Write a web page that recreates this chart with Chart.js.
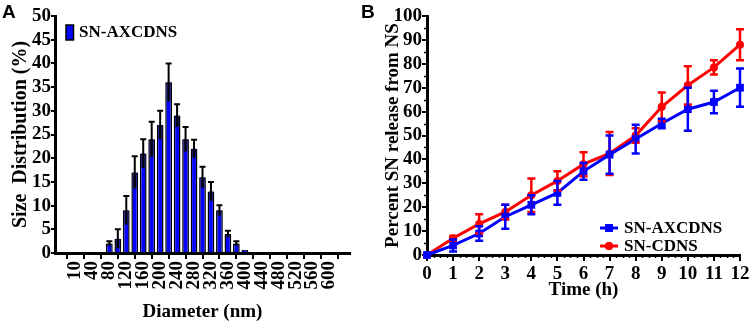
<!DOCTYPE html>
<html>
<head>
<meta charset="utf-8">
<script src="https://cdn.jsdelivr.net/npm/chart.js@4.4.0/dist/chart.umd.min.js"></script>
<style>
  html, body { margin: 0; padding: 0; background: #fff; }
  #wrap { position: relative; width: 754px; height: 323px; overflow: hidden; }
  .panel { position: absolute; top: 0; width: 377px; height: 323px; }
  #panelA { left: 0; }
  #panelB { left: 377px; }
  .tag { position: absolute; top: 2px; font: bold 19px "Liberation Sans", Arial, sans-serif; line-height: 19px; color: #000; }
</style>
</head>
<body>
<div id="wrap">
  <div class="panel" id="panelA"><canvas id="chartA" width="377" height="323"></canvas></div>
  <div class="panel" id="panelB"><canvas id="chartB" width="377" height="323"></canvas></div>
  <div class="tag" style="left:2px">A</div>
  <div class="tag" style="left:361px">B</div>
</div>
<script>
// Panel A data: size distribution (%) per diameter bin
const diameters = [10, 20, 40, 60, 80, 100, 120, 140, 160, 180, 200, 220, 240, 260, 280, 300,
                   320, 340, 360, 380, 400, 420, 440, 460, 480, 500, 520, 540, 560, 580, 600];
const sizeDist = [0, 0, 0, 0, 2, 3, 9, 17, 21, 24, 27, 36, 29, 24, 22, 16,
                  13, 9, 4, 2, 0.7, 0, 0, 0, 0, 0, 0, 0, 0, 0, 0];
const sizeErr = [0, 0, 0, 0, 0.5, 2, 3, 3.4, 3, 3.7, 3, 4, 2.4, 2.6, 1.9, 2.2,
                 2, 1.1, 0.7, 0.5, 0, 0, 0, 0, 0, 0, 0, 0, 0, 0, 0];

// Panel B data: release over time
const times = [0, 1, 2, 3, 4, 5, 6, 7, 8, 9, 10, 11, 12];
const axcdns = [0, 4, 9, 16, 21, 26, 35, 42, 48.5, 55, 61, 64, 70];
const axcdnsErr = [0, 2.5, 3, 5, 4, 5, 3.5, 8, 6, 2, 9, 4.7, 8];
const cdns = [0, 7, 13, 18, 25, 31, 38, 42.5, 50, 62, 71, 78.5, 88];
const cdnsErr = [0, 1, 4, 3, 7, 4, 5, 9, 3, 6, 8, 3, 6.5];

Chart.defaults.font.family = '"Liberation Serif", "Times New Roman", serif';
Chart.defaults.font.weight = 'bold';
Chart.defaults.font.size = 19;
Chart.defaults.color = '#000';
Chart.defaults.animation = false;

const legendFont = 'bold 17px "Liberation Serif", "Times New Roman", serif';

// error bars: bar charts get a shaded lower part and a top cap, lines get both caps
const errorBars = {
    id: 'errorBars',
    afterDatasetsDraw(chart, args, opts) {
        const ctx = chart.ctx;
        const y = chart.scales.y;
        ctx.save();
        for (let d = chart.data.datasets.length - 1; d >= 0; d--) {
            const ds = chart.data.datasets[d];
            if (!ds.errors) continue;
            const meta = chart.getDatasetMeta(d);
            meta.data.forEach((el, i) => {
                const err = ds.errors[i];
                if (!err) return;
                const v = ds.data[i].y;
                const top = y.getPixelForValue(v + err);
                const low = y.getPixelForValue(Math.max(v - err, 0));
                const mid = y.getPixelForValue(v);
                if (opts.shade) {
                    const hw = el.width / 2 - 1.5;
                    ctx.fillStyle = opts.shade;
                    ctx.fillRect(el.x - hw, mid, hw * 2, low - mid);
                }
                ctx.strokeStyle = opts.color || ds.borderColor;
                ctx.lineWidth = opts.width;
                ctx.beginPath();
                ctx.moveTo(el.x, low);
                ctx.lineTo(el.x, top);
                ctx.moveTo(el.x - opts.cap, top);
                ctx.lineTo(el.x + opts.cap, top);
                if (opts.bothCaps) {
                    ctx.moveTo(el.x - opts.cap, low);
                    ctx.lineTo(el.x + opts.cap, low);
                }
                ctx.stroke();
            });
        }
        ctx.restore();
    }
};

// small ticks between the labelled ones
const minorTicks = {
    id: 'minorTicks',
    afterDraw(chart, args, opts) {
        const ctx = chart.ctx;
        const area = chart.chartArea;
        ctx.save();
        ctx.strokeStyle = '#000';
        ctx.lineWidth = 1.5;
        ctx.beginPath();
        const xs = chart.scales.x, ys = chart.scales.y;
        for (let v = xs.min; v <= xs.max + 1e-9; v += opts.x) {
            if (Math.abs(v - Math.round(v)) < 1e-6) continue;
            const px = Math.round(xs.getPixelForValue(v)) + 0.5;
            ctx.moveTo(px, area.bottom);
            ctx.lineTo(px, area.bottom + opts.len);
        }
        for (let v = ys.min; v <= ys.max + 1e-9; v += opts.y) {
            if (v % 10 === 0) continue;
            const py = Math.round(ys.getPixelForValue(v)) + 0.5;
            ctx.moveTo(area.left, py);
            ctx.lineTo(area.left - opts.len, py);
        }
        ctx.stroke();
        ctx.restore();
    }
};

const legendA = {
    id: 'legendA',
    afterDraw(chart) {
        const ctx = chart.ctx;
        const area = chart.chartArea;
        const ds = chart.data.datasets[0];
        ctx.save();
        ctx.fillStyle = ds.backgroundColor;
        ctx.fillRect(area.left + 11, area.top + 9, 7.5, 15);
        ctx.strokeStyle = '#000';
        ctx.lineWidth = 1.5;
        ctx.strokeRect(area.left + 11, area.top + 9, 7.5, 15);
        ctx.fillStyle = '#000';
        ctx.font = legendFont;
        ctx.textBaseline = 'middle';
        ctx.fillText(ds.label, area.left + 24, area.top + 17);
        ctx.restore();
    }
};

const legendB = {
    id: 'legendB',
    afterDraw(chart) {
        const ctx = chart.ctx;
        const area = chart.chartArea;
        ctx.save();
        chart.data.datasets.forEach((ds, i) => {
            const yy = area.bottom - 27 + i * 18;
            const x0 = area.right - 140;
            ctx.strokeStyle = ds.borderColor;
            ctx.lineWidth = 3;
            ctx.beginPath();
            ctx.moveTo(x0, yy);
            ctx.lineTo(x0 + 18, yy);
            ctx.stroke();
            ctx.fillStyle = ds.backgroundColor;
            Chart.helpers.drawPoint(ctx, {pointStyle: ds.pointStyle, radius: ds.pointRadius, borderWidth: 0}, x0 + 9, yy);
            ctx.fill();
            ctx.fillStyle = '#000';
            ctx.font = legendFont;
            ctx.textBaseline = 'middle';
            ctx.fillText(ds.label, x0 + 24, yy + 1);
        });
        ctx.restore();
    }
};

function axisGrid(len) {
    return { drawOnChartArea: false, drawTicks: true, tickLength: len, lineWidth: 2, color: '#000' };
}

new Chart(document.getElementById('chartA'), {
    type: 'bar',
    data: {
        datasets: [{
            label: 'SN-AXCDNS',
            data: sizeDist.map((v, i) => ({ x: i, y: v })),
            errors: sizeErr,
            backgroundColor: '#0505ff',
            borderColor: '#000',
            borderWidth: 1.5,
            barPercentage: 0.8,
            categoryPercentage: 1
        }]
    },
    options: {
        responsive: false,
        layout: { padding: { top: 16, right: 27, left: 0, bottom: 0 } },
        plugins: {
            legend: { display: false },
            tooltip: { enabled: false },
            errorBars: { color: '#000', width: 2, cap: 3, shade: '#1a1a6e' }
        },
        scales: {
            x: {
                type: 'linear',
                min: -1.33,
                max: 31.33,
                afterBuildTicks: scale => {
                    scale.ticks = diameters.map((d, i) => ({ value: i })).filter(t => t.value % 2 === 0);
                },
                ticks: {
                    autoSkip: false, minRotation: 90, maxRotation: 90, padding: 2,
                    callback: v => diameters[v]
                },
                grid: axisGrid(6),
                border: { display: true, width: 3, color: '#000' },
                title: { display: true, text: 'Diameter (nm)', font: { size: 19 }, padding: { top: 0, bottom: 0 } },
                afterFit: s => { s.height = 70; s.paddingLeft = 0; s.paddingRight = 0; }
            },
            y: {
                min: 0,
                max: 50,
                ticks: { stepSize: 5, padding: 0, autoSkip: false },
                grid: axisGrid(4),
                border: { display: true, width: 3, color: '#000' },
                title: { display: true, text: 'Size  Distribution (%)', font: { size: 20 }, padding: { top: 9, bottom: 0 } },
                afterFit: s => { s.width = 55; s.paddingTop = 0; s.paddingBottom = 0; }
            }
        }
    },
    plugins: [errorBars, legendA]
});

new Chart(document.getElementById('chartB'), {
    type: 'line',
    data: {
        datasets: [{
            label: 'SN-AXCDNS',
            data: times.map((t, i) => ({ x: t, y: axcdns[i] })),
            errors: axcdnsErr,
            borderColor: '#0000ff',
            backgroundColor: '#0000ff',
            borderWidth: 3,
            pointStyle: 'rect',
            pointRadius: 5.5,
            pointBorderWidth: 0,
            clip: false
        }, {
            label: 'SN-CDNS',
            data: times.map((t, i) => ({ x: t, y: cdns[i] })),
            errors: cdnsErr,
            borderColor: '#ff0000',
            backgroundColor: '#ff0000',
            borderWidth: 3,
            pointStyle: 'circle',
            pointRadius: 4,
            pointBorderWidth: 0,
            clip: false
        }]
    },
    options: {
        responsive: false,
        layout: { padding: { top: 16, right: 14, left: 0, bottom: 0 } },
        plugins: {
            legend: { display: false },
            tooltip: { enabled: false },
            errorBars: { width: 2.5, cap: 4, bothCaps: true },
            minorTicks: { x: 0.25, y: 5, len: 3 }
        },
        scales: {
            x: {
                type: 'linear',
                min: 0,
                max: 12,
                ticks: { stepSize: 1, padding: 2, maxRotation: 0, autoSkip: false },
                grid: axisGrid(6),
                border: { display: true, width: 3, color: '#000' },
                title: { display: true, text: 'Time (h)', font: { size: 19 }, padding: { top: 0, bottom: 22 } },
                afterFit: s => { s.height = 68; s.paddingLeft = 0; s.paddingRight = 0; }
            },
            y: {
                min: 0,
                max: 100,
                ticks: { stepSize: 10, padding: 0, autoSkip: false },
                grid: axisGrid(5),
                border: { display: true, width: 3, color: '#000' },
                title: { display: true, text: 'Percent SN release from NS', font: { size: 19 }, padding: { top: 5, bottom: 0 } },
                afterFit: s => { s.width = 50; s.paddingTop = 0; s.paddingBottom = 0; }
            }
        }
    },
    plugins: [errorBars, minorTicks, legendB]
});
</script>
</body>
</html>
